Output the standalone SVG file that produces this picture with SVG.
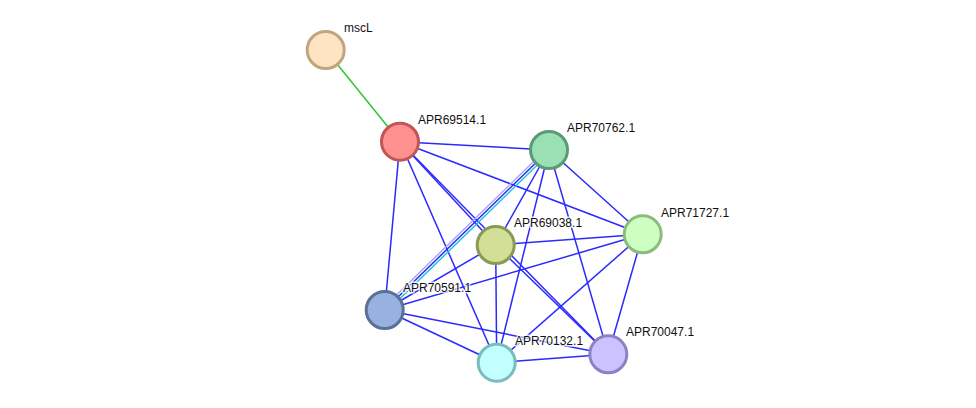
<svg xmlns="http://www.w3.org/2000/svg" width="976" height="408" viewBox="0 0 976 408">
<style>
.e{stroke:#2a2aff;stroke-width:1.5;fill:none}
.g{stroke:#33c233;stroke-width:1.5}
.p{stroke:#a8a8f0;stroke-width:1.5}
.c{stroke:#22c4d8;stroke-width:1.5}
.n{stroke-width:3}
text{font-family:"Liberation Sans",Arial,sans-serif;font-size:12px;fill:#111;stroke:#fff;stroke-width:3;stroke-opacity:0.8;paint-order:stroke;stroke-linejoin:round}
</style>
<rect width="976" height="408" fill="#fff"/>
<g id="connectors">
<line class="g" x1="325.7" y1="50" x2="400" y2="141.7"/>
<line class="e" x1="400" y1="141.7" x2="549" y2="150"/>
<line class="e" x1="400" y1="141.7" x2="642.7" y2="234.3"/>
<line class="e" x1="400" y1="141.7" x2="495.7" y2="245"/>
<line class="e" x1="400" y1="141.7" x2="608.3" y2="354.3"/>
<line class="e" x1="400" y1="141.7" x2="496.7" y2="362.7"/>
<line class="e" x1="400" y1="141.7" x2="384.7" y2="310"/>
<line class="p" x1="547.25" y1="148.2" x2="382.95" y2="308.2"/>
<line class="e" x1="549" y1="150" x2="384.7" y2="310"/>
<line class="c" x1="550.75" y1="151.8" x2="386.45" y2="311.8"/>
<line class="e" x1="549" y1="150" x2="495.7" y2="245"/>
<line class="e" x1="549" y1="150" x2="496.7" y2="362.7"/>
<line class="e" x1="549" y1="150" x2="608.3" y2="354.3"/>
<line class="e" x1="549" y1="150" x2="642.7" y2="234.3"/>
<line class="e" x1="642.7" y1="234.3" x2="495.7" y2="245"/>
<line class="e" x1="642.7" y1="234.3" x2="384.7" y2="310"/>
<line class="e" x1="642.7" y1="234.3" x2="496.7" y2="362.7"/>
<line class="e" x1="642.7" y1="234.3" x2="608.3" y2="354.3"/>
<line class="e" x1="495.7" y1="245" x2="384.7" y2="310"/>
<line class="e" x1="495.7" y1="245" x2="496.7" y2="362.7"/>
<line class="e" x1="495.7" y1="245" x2="608.3" y2="354.3"/>
<line class="e" x1="384.7" y1="310" x2="496.7" y2="362.7"/>
<line class="e" x1="384.7" y1="310" x2="608.3" y2="354.3"/>
<line class="e" x1="496.7" y1="362.7" x2="608.3" y2="354.3"/>
</g>
<g id="mscL"><circle class="n" cx="325.7" cy="50" r="18.5" fill="#ffe4c4" stroke="#c0a67e"/><text x="344" y="32">mscL</text></g>
<g id="APR69514.1"><circle class="n" cx="400" cy="141.7" r="18.5" fill="#ff9090" stroke="#c05656"/><text x="418" y="124">APR69514.1</text></g>
<g id="APR70762.1"><circle class="n" cx="549" cy="150" r="18.5" fill="#9be0b4" stroke="#5a9a74"/><text x="567" y="132">APR70762.1</text></g>
<g id="APR71727.1"><circle class="n" cx="642.7" cy="234.3" r="18.5" fill="#ceffc2" stroke="#8cbc7c"/><text x="661" y="217">APR71727.1</text></g>
<g id="APR69038.1"><circle class="n" cx="495.7" cy="245" r="18.5" fill="#d3de96" stroke="#8a9a56"/><text x="514" y="227">APR69038.1</text></g>
<g id="APR70591.1"><circle class="n" cx="384.7" cy="310" r="18.5" fill="#98b2e0" stroke="#5a7096"/><text x="403" y="292">APR70591.1</text></g>
<g id="APR70132.1"><circle class="n" cx="496.7" cy="362.7" r="18.5" fill="#c2ffff" stroke="#7cbcbc"/><text x="515" y="345">APR70132.1</text></g>
<g id="APR70047.1"><circle class="n" cx="608.3" cy="354.3" r="18.5" fill="#cbc2ff" stroke="#8a82c2"/><text x="626" y="336">APR70047.1</text></g>
</svg>
